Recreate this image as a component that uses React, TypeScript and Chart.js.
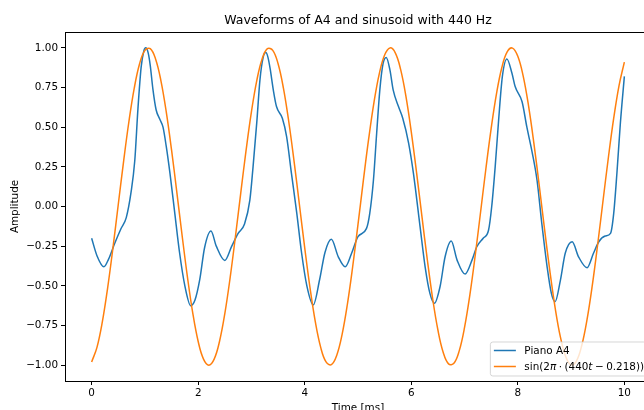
import { useEffect, useRef } from "react";
import { Chart, registerables } from "chart.js";

Chart.register(...registerables);

const chartTitle = "Waveforms of A4 and sinusoid with 440 Hz";
const xAxisLabel = "Time [ms]";
const yAxisLabel = "Amplitude";
const pianoLabel = "Piano A4";

// The sinusoid's legend entry is mathtext: π and t are set in italics.
const sineLabelParts: [string, boolean][] = [
  ["sin(2", false],
  ["π", true],
  ["·", false],
  ["(440", false],
  ["t", true],
  ["−", false],
  ["0.218))", false],
];
const sineLabel = "sin(2π·(440t − 0.218))";

const xTicks = [0, 2, 4, 6, 8, 10];
const yTicks = [-1, -0.75, -0.5, -0.25, 0, 0.25, 0.5, 0.75, 1];

// Recorded piano A4 waveform (time in ms, normalised amplitude)
const pianoTimes = [
  0, 0.1, 0.23, 0.32, 0.43, 0.55, 0.65, 0.74, 0.81, 0.87,
  0.93, 0.98, 1.015, 1.06, 1.1, 1.15, 1.21, 1.28, 1.34, 1.4,
  1.47, 1.56, 1.65, 1.75, 1.86, 1.94, 2.03, 2.12, 2.24, 2.34,
  2.5, 2.63, 2.75, 2.87, 2.97, 3.03, 3.1, 3.16, 3.22, 3.27,
  3.31, 3.35, 3.41, 3.47, 3.58, 3.66, 3.75, 3.85, 3.94, 4.04,
  4.16, 4.28, 4.38, 4.5, 4.63, 4.76, 4.88, 5.0, 5.16, 5.22,
  5.29, 5.35, 5.41, 5.47, 5.53, 5.6, 5.66, 5.76, 5.84, 5.95,
  6.04, 6.165, 6.26, 6.35, 6.435, 6.54, 6.635, 6.75, 6.86, 7.01,
  7.14, 7.23, 7.35, 7.45, 7.51, 7.575, 7.64, 7.71, 7.795, 7.89,
  7.95, 8.08, 8.17, 8.27, 8.36, 8.45, 8.55, 8.63, 8.7, 8.8,
  8.89, 9.02, 9.14, 9.3, 9.42, 9.52, 9.64, 9.74, 9.8, 9.86,
  9.925, 10.0,
];
const pianoAmps = [
  -0.2, -0.31, -0.38, -0.33, -0.235, -0.14, -0.07, 0.09, 0.29, 0.62,
  0.88, 0.98, 1.0, 0.97, 0.89, 0.74, 0.61, 0.55, 0.5, 0.38,
  0.21, -0.04, -0.29, -0.5, -0.625, -0.59, -0.46, -0.26, -0.155, -0.25,
  -0.34, -0.25, -0.17, -0.11, 0.04, 0.25, 0.53, 0.8, 0.94, 0.97,
  0.94, 0.87, 0.735, 0.63, 0.556, 0.44, 0.21, -0.04, -0.29, -0.5,
  -0.62, -0.46, -0.29, -0.207, -0.317, -0.38, -0.295, -0.19, -0.138, -0.045,
  0.167, 0.46, 0.735, 0.9, 0.94, 0.86, 0.735, 0.63, 0.556, 0.4,
  0.21, -0.127, -0.38, -0.548, -0.61, -0.506, -0.317, -0.218, -0.338, -0.426,
  -0.338, -0.254, -0.2, -0.15, 0.0, 0.25, 0.546, 0.82, 0.93, 0.84,
  0.756, 0.66, 0.5, 0.34, 0.167, -0.106, -0.38, -0.548, -0.6, -0.464,
  -0.295, -0.222, -0.317, -0.386, -0.295, -0.222, -0.186, -0.169, -0.043, 0.21,
  0.525, 0.82,
];

// Reference sinusoid sampled every 0.1 ms
const sineTimes = [
  0, 0.1, 0.2, 0.3, 0.4, 0.5, 0.6, 0.7, 0.8, 0.9,
  1.0, 1.1, 1.2, 1.3, 1.4, 1.5, 1.6, 1.7, 1.8, 1.9,
  2.0, 2.1, 2.2, 2.3, 2.4, 2.5, 2.6, 2.7, 2.8, 2.9,
  3.0, 3.1, 3.2, 3.3, 3.4, 3.5, 3.6, 3.7, 3.8, 3.9,
  4.0, 4.1, 4.2, 4.3, 4.4, 4.5, 4.6, 4.7, 4.8, 4.9,
  5.0, 5.1, 5.2, 5.3, 5.4, 5.5, 5.6, 5.7, 5.8, 5.9,
  6.0, 6.1, 6.2, 6.3, 6.4, 6.5, 6.6, 6.7, 6.8, 6.9,
  7.0, 7.1, 7.2, 7.3, 7.4, 7.5, 7.6, 7.7, 7.8, 7.9,
  8.0, 8.1, 8.2, 8.3, 8.4, 8.5, 8.6, 8.7, 8.8, 8.9,
  9.0, 9.1, 9.2, 9.3, 9.4, 9.5, 9.6, 9.7, 9.8, 9.9,
  10.0,
];
const sineAmps = [
  -0.9799, -0.8882, -0.729, -0.5144, -0.2609, 0.0126, 0.285, 0.5358, 0.7461, 0.8994,
  0.9846, 0.995, 0.9298, 0.794, 0.598, 0.3564, 0.0878, -0.1874, -0.4484, -0.6753,
  -0.8511, -0.962, -1.0, -0.962, -0.8511, -0.6753, -0.4484, -0.1874, 0.0878, 0.3564,
  0.598, 0.794, 0.9298, 0.995, 0.9846, 0.8994, 0.7461, 0.5358, 0.285, 0.0126,
  -0.2609, -0.5144, -0.729, -0.8882, -0.9799, -0.9972, -0.9388, -0.809, -0.6178, -0.3798,
  -0.1129, 0.1626, 0.4258, 0.6566, 0.8377, 0.9549, 0.9997, 0.9686, 0.864, 0.6936,
  0.4706, 0.212, -0.0628, -0.3327, -0.5776, -0.7786, -0.9203, -0.9921, -0.9887, -0.9102,
  -0.7623, -0.5568, -0.309, -0.0377, 0.2365, 0.4927, 0.7115, 0.8763, 0.9745, 0.9987,
  0.9471, 0.8236, 0.6374, 0.4029, 0.1378, -0.1378, -0.4029, -0.6374, -0.8236, -0.9471,
  -0.9987, -0.9745, -0.8763, -0.7115, -0.4927, -0.2365, 0.0377, 0.309, 0.5568, 0.7623,
  0.9102,
];

const BLUE = "#1f77b4";
const ORANGE = "#ff7f0e";
const FONT = '"DejaVu Sans", "Liberation Sans", sans-serif';
const LABEL_SIZE = 10.4;
const TITLE_SIZE = 12.5;

const formatAmp = (v: number) => (v < 0 ? "\u2212" : "") + Math.abs(v).toFixed(2);

// Full rectangular frame around the plotting area
const framePlugin = {
  id: "axesFrame",
  afterDatasetsDraw(chart: any) {
    const { ctx, chartArea } = chart;
    const l = Math.floor(chartArea.left) + 0.5;
    const t = Math.floor(chartArea.top) + 0.5;
    const r = Math.floor(chartArea.right) + 0.5;
    const b = Math.floor(chartArea.bottom) + 0.5;
    ctx.save();
    ctx.strokeStyle = "#000";
    ctx.lineWidth = 1;
    ctx.strokeRect(l, t, r - l, b - t);
    ctx.restore();
  },
};

// Legend box in the lower-right corner of the axes
const legendPlugin = {
  id: "cornerLegend",
  afterDraw(chart: any) {
    const { ctx, chartArea } = chart;
    const normal = `${LABEL_SIZE}px ${FONT}`;
    const italic = `italic ${LABEL_SIZE}px ${FONT}`;
    const gap = 2.5;

    const partsFor = (label: string): [string, boolean][] =>
      label === sineLabel ? sineLabelParts : [[label, false]];

    const widthOf = (parts: [string, boolean][]) => {
      let w = 0;
      parts.forEach(([txt, it]) => {
        ctx.font = it ? italic : normal;
        w += ctx.measureText(txt).width;
        if (txt === "·" || txt === "−") w += 2 * gap;
      });
      return w;
    };

    const entries = chart.data.datasets.map((ds: any) => ({
      parts: partsFor(ds.label),
      color: ds.borderColor,
    }));
    const textW = Math.max(...entries.map((e: any) => widthOf(e.parts)));

    const right = chartArea.right - 5;
    const bottom = chartArea.bottom - 5;
    const height = 34;
    const top = bottom - height;
    const left = right - (4 + 20 + 8 + textW + 4);

    ctx.save();
    ctx.beginPath();
    const rr = 2.5;
    ctx.moveTo(left + rr, top);
    ctx.lineTo(right - rr, top);
    ctx.arcTo(right, top, right, top + rr, rr);
    ctx.lineTo(right, bottom - rr);
    ctx.arcTo(right, bottom, right - rr, bottom, rr);
    ctx.lineTo(left + rr, bottom);
    ctx.arcTo(left, bottom, left, bottom - rr, rr);
    ctx.lineTo(left, top + rr);
    ctx.arcTo(left, top, left + rr, top, rr);
    ctx.closePath();
    ctx.fillStyle = "rgba(255,255,255,0.8)";
    ctx.fill();
    ctx.strokeStyle = "rgba(204,204,204,0.8)";
    ctx.lineWidth = 1;
    ctx.stroke();

    entries.forEach((e: any, i: number) => {
      const y = top + 8.5 + i * 16;
      ctx.beginPath();
      ctx.strokeStyle = e.color;
      ctx.lineWidth = 1.5;
      ctx.moveTo(left + 3.5, y);
      ctx.lineTo(left + 25.5, y);
      ctx.stroke();

      let x = left + 34;
      ctx.fillStyle = "#000";
      ctx.textBaseline = "alphabetic";
      ctx.textAlign = "left";
      e.parts.forEach(([txt, it]: [string, boolean]) => {
        const spaced = txt === "·" || txt === "−";
        if (spaced) x += gap;
        ctx.font = it ? italic : normal;
        ctx.fillText(txt, x, y + 3.8);
        x += ctx.measureText(txt).width;
        if (spaced) x += gap;
      });
    });
    ctx.restore();
  },
};

export default function App() {
  const canvasRef = useRef<HTMLCanvasElement>(null);

  useEffect(() => {
    const canvas = canvasRef.current;
    if (!canvas) return;

    const pianoPoints = pianoTimes.map((t, i) => ({ x: t, y: pianoAmps[i] }));
    const sinePoints = sineTimes.map((t, i) => ({ x: t, y: sineAmps[i] }));

    const axisFont = { family: FONT, size: LABEL_SIZE };

    const chart = new Chart(canvas, {
      type: "line",
      data: {
        datasets: [
          {
            label: pianoLabel,
            data: pianoPoints,
            borderColor: BLUE,
            backgroundColor: BLUE,
            borderWidth: 1.5,
            pointRadius: 0,
            cubicInterpolationMode: "monotone",
            order: 1,
          },
          {
            label: sineLabel,
            data: sinePoints,
            borderColor: ORANGE,
            backgroundColor: ORANGE,
            borderWidth: 1.5,
            pointRadius: 0,
            tension: 0.4,
            order: 0,
          },
        ],
      },
      options: {
        responsive: false,
        animation: false,
        events: [],
        layout: { padding: { top: 0, left: 0, right: 13, bottom: 0 } },
        plugins: {
          legend: { display: false },
          tooltip: { enabled: false },
          title: {
            display: true,
            text: chartTitle,
            fullSize: false,
            color: "#000",
            font: { family: FONT, size: TITLE_SIZE, weight: "normal" },
            padding: { top: 13.5, bottom: 3.5 },
          },
        },
        scales: {
          x: {
            type: "linear",
            min: -0.5,
            max: 10.5,
            afterBuildTicks: (s: any) => {
              s.ticks = xTicks.map((v) => ({ value: v }));
            },
            afterFit: (s: any) => {
              s.height = 39;
            },
            border: { display: false },
            grid: {
              drawOnChartArea: false,
              drawTicks: true,
              tickLength: 4,
              color: "#000",
              lineWidth: 1,
            },
            ticks: {
              color: "#000",
              font: axisFont,
              padding: 2,
              autoSkip: false,
              maxRotation: 0,
              callback: (v: any) => String(v),
            },
            title: {
              display: true,
              text: xAxisLabel,
              color: "#000",
              font: axisFont,
              padding: { top: 0, bottom: 5.5 },
            },
          },
          y: {
            type: "linear",
            min: -1.1,
            max: 1.1,
            afterBuildTicks: (s: any) => {
              s.ticks = yTicks.map((v) => ({ value: v }));
            },
            afterFit: (s: any) => {
              s.width = 65;
            },
            border: { display: false },
            grid: {
              drawOnChartArea: false,
              drawTicks: true,
              tickLength: 4,
              color: "#000",
              lineWidth: 1,
            },
            ticks: {
              color: "#000",
              font: axisFont,
              padding: 3,
              autoSkip: false,
              callback: (v: any) => formatAmp(Number(v)),
            },
            title: {
              display: true,
              text: yAxisLabel,
              color: "#000",
              font: axisFont,
              padding: { top: 9.5, bottom: 0 },
            },
          },
        },
      },
      plugins: [framePlugin, legendPlugin],
    } as any);

    return () => chart.destroy();
  }, []);

  return (
    <div
      style={{
        position: "fixed",
        left: 0,
        top: 0,
        width: 644,
        height: 410,
        overflow: "hidden",
        background: "#fff",
      }}
    >
      <canvas ref={canvasRef} width={664} height={420} style={{ display: "block" }} />
    </div>
  );
}
